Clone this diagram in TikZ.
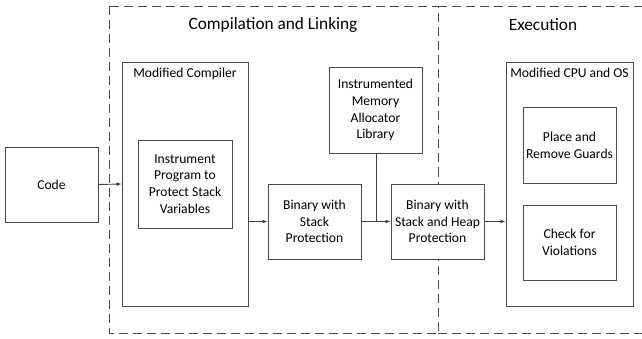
\documentclass[tikz,border=0pt]{standalone}
\usepackage{fontspec}
\setmainfont{Carlito}
\usetikzlibrary{arrows.meta}
\begin{document}
\begin{tikzpicture}[x=1pt,y=-1pt,
  box/.style={draw=black!70, line width=0.9pt, fill=white, inner sep=0pt, align=center, font=\fontsize{13.6}{16.8}\selectfont},
  phase/.style={draw=black!70, line width=0.8pt, dash pattern=on 9pt off 5pt},
  title/.style={font=\fontsize{17.3}{20}\selectfont, inner sep=0pt},
  label/.style={font=\fontsize{13.6}{16}\selectfont, inner sep=0pt},
  conn/.style={draw=black!75, line width=0.9pt},
  arr/.style={conn, -{Latex[length=5pt,width=4pt]}}]
\useasboundingbox (0,0) rectangle (642,339);
\begin{scope}
\clip (0,0) rectangle (642,339);
\draw[phase] (109.5,6) rectangle (438,333);
\draw[phase] (438,6) -- (660,6);
\draw[phase] (438,333) -- (660,333);
\end{scope}
\node[title] (t1) at (273,25) {Compilation and Linking};
\node[title] (t2) at (543,25) {Execution};

\node[box, minimum width=93pt, minimum height=75pt] (code) at (51.5,184.5) {Code};
\node[box, minimum width=126pt, minimum height=244pt] (comp) at (185,184) {};
\node[label, anchor=north] (compl) at (185,68) {Modified Compiler};
\node[box, minimum width=94pt, minimum height=88pt] (inst) at (185,184) {Instrument\\Program to\\Protect Stack\\Variables};
\node[box, minimum width=93pt, minimum height=75pt] (bs) at (314.5,221.5) {Binary with\\Stack\\Protection};
\node[box, minimum width=93pt, minimum height=86pt] (mem) at (375.5,110) {Instrumented\\Memory\\Allocator\\Library};
\node[box, minimum width=93pt, minimum height=75pt] (bh) at (437.5,221.5) {Binary with\\Stack and Heap\\Protection};
\node[box, minimum width=127pt, minimum height=244pt] (cpu) at (569.5,184) {};
\node[label, anchor=north] (cpul) at (569.5,68) {Modified CPU and OS};
\node[box, minimum width=93pt, minimum height=76pt] (place) at (569.5,145) {Place and\\Remove Guards};
\node[box, minimum width=93pt, minimum height=75pt] (check) at (569.5,242.5) {Check for\\Violations};

\coordinate (j) at (376,221.5);
\draw[arr] (code.east) -- (comp.west);
\draw[arr] (comp.east |- bs.west) -- (bs.west);
\draw[arr] (bs.east) -- (bh.west);
\draw[conn] (mem.south -| j) -- (j);
\draw[arr] (bh.east) -- (cpu.west |- bh.east);
\end{tikzpicture}
\end{document}
